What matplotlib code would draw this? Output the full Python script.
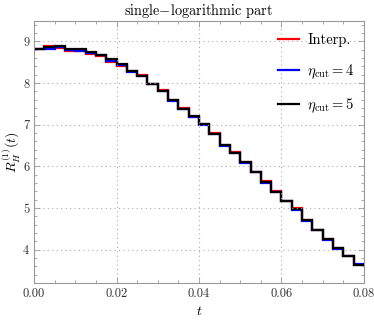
import numpy as np
import matplotlib
matplotlib.use("Agg")
import matplotlib.pyplot as plt
from matplotlib.ticker import MultipleLocator

plt.rcParams['mathtext.fontset'] = 'cm'
plt.rcParams['font.family'] = 'serif'
plt.rcParams['font.serif'] = ['cmr10', 'DejaVu Serif']
plt.rcParams['axes.formatter.use_mathtext'] = True
plt.rcParams['axes.unicode_minus'] = False

# bin edges in t (32 bins of width 0.0025)
t_edges = np.linspace(0.0, 0.08, 33)

# step heights
r_interp = [8.82, 8.90, 8.84, 8.78, 8.76, 8.71, 8.64, 8.51, 8.41, 8.28, 8.20,
            7.98, 7.84, 7.60, 7.41, 7.19, 7.02, 6.80, 6.52, 6.34, 6.10, 5.87,
            5.64, 5.41, 5.17, 4.99, 4.71, 4.47, 4.26, 4.05, 3.84, 3.62]
r_eta4 = [8.81, 8.83, 8.87, 8.80, 8.77, 8.72, 8.67, 8.53, 8.43, 8.26, 8.17,
          7.97, 7.81, 7.57, 7.38, 7.18, 6.99, 6.77, 6.49, 6.31, 6.07, 5.86,
          5.61, 5.38, 5.16, 4.96, 4.70, 4.46, 4.24, 4.02, 3.84, 3.65]
r_eta5 = [8.82, 8.86, 8.88, 8.82, 8.82, 8.75, 8.68, 8.59, 8.47, 8.29, 8.18,
          7.99, 7.82, 7.60, 7.39, 7.20, 7.02, 6.78, 6.52, 6.32, 6.10, 5.87,
          5.62, 5.39, 5.16, 4.97, 4.71, 4.47, 4.26, 4.05, 3.84, 3.64]

labels = ['Interp.', r'$\eta_{\rm cut} = 4$', r'$\eta_{\rm cut} = 5$']
colors = ['#ff0000', '#0000ff', '#000000']

fig = plt.figure(figsize=(3.74, 3.23), dpi=100)
ax = fig.add_axes([0.091, 0.124, 0.882, 0.812])

for vals, lab, col in zip([r_interp, r_eta4, r_eta5], labels, colors):
    ax.stairs(vals, t_edges, color=col, lw=1.6, label=lab, baseline=None)

ax.set_xlim(0, 0.08)
ax.set_ylim(3.2, 9.5)
ax.xaxis.set_major_locator(MultipleLocator(0.02))
ax.xaxis.set_minor_locator(MultipleLocator(0.005))
ax.yaxis.set_major_locator(MultipleLocator(1))
ax.yaxis.set_minor_locator(MultipleLocator(0.2))
ax.xaxis.set_major_formatter(plt.FuncFormatter(lambda v, p: f'{v:.2f}'))
ax.yaxis.set_major_formatter(plt.FuncFormatter(lambda v, p: f'{v:.0f}'))

ax.tick_params(which='both', direction='in', top=True, right=True,
               color='#999999', labelsize=9, labelcolor='#333333')
ax.tick_params(which='major', length=4, width=0.6)
ax.tick_params(which='minor', length=2, width=0.6)
for s in ax.spines.values():
    s.set_color('#999999')
    s.set_linewidth(0.8)

ax.grid(True, which='major', linestyle=(0, (1, 3)), color='#aaaaaa', lw=0.8)

ax.set_title(r'single$-$logarithmic part', fontsize=10.3, pad=4)
ax.set_xlabel(r'$t$', fontsize=10, labelpad=4)
ax.set_ylabel(r'$R_H^{(1)}(t)$', fontsize=10, labelpad=0)

leg = ax.legend(loc='upper right', frameon=False, fontsize=10.5,
                handlelength=1.5, labelspacing=1.05, handletextpad=0.55,
                borderaxespad=0.2, bbox_to_anchor=(1.0, 0.985))

fig.savefig('out.png', dpi=100)
